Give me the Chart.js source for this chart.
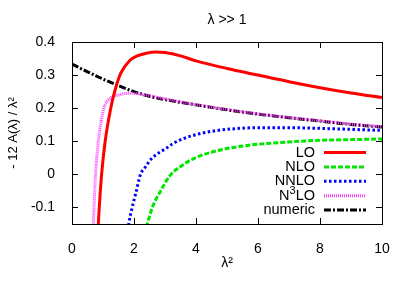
<!DOCTYPE html>
<html>
<head>
<meta charset="utf-8">
<script src="https://cdn.jsdelivr.net/npm/chart.js@4/dist/chart.umd.min.js"></script>
<style>
  html, body { margin: 0; padding: 0; background: #fff; }
  #caixa { width: 409px; height: 285px; }
</style>
</head>
<body>
<div id="caixa"><canvas id="grafico"></canvas></div>
<script>
// valores (x = lambda^2)
const loX = [0.83, 0.85, 0.88, 0.955, 1.07, 1.25, 1.39, 1.57, 1.87, 2.1, 2.43, 2.7, 3, 3.5, 4, 5, 6, 7, 8, 9, 10];
const loY = [-0.2, -0.15, -0.1, 0, 0.1, 0.2, 0.255, 0.305, 0.345, 0.358, 0.367, 0.37, 0.368, 0.358, 0.343, 0.32, 0.3, 0.28, 0.262, 0.246, 0.232];

const nloX = [2.4, 2.43, 2.59, 2.86, 3.15, 3.6, 3.83, 4.16, 4.5, 5, 5.45, 6, 7, 8, 9, 10];
const nloY = [-0.16, -0.15, -0.1, -0.05, -0.005, 0.03, 0.043, 0.057, 0.067, 0.078, 0.085, 0.091, 0.098, 0.103, 0.105, 0.107];

const nnloX = [1.8, 1.83, 1.94, 2.05, 2.21, 2.35, 2.54, 2.8, 3.03, 3.24, 3.51, 4, 4.5, 5, 6, 7, 8, 9, 10];
const nnloY = [-0.17, -0.15, -0.1, -0.06, 0, 0.02, 0.045, 0.065, 0.078, 0.092, 0.105, 0.12, 0.13, 0.136, 0.141, 0.141, 0.139, 0.136, 0.133];

const n3loX = [0.68, 0.69, 0.71, 0.76, 0.85, 1.03, 1.21, 1.5, 1.9, 2.5, 3, 4, 5, 6, 7, 8, 9, 10];
const n3loY = [-0.2, -0.15, -0.1, 0, 0.1, 0.2, 0.228, 0.24, 0.245, 0.238, 0.228, 0.211, 0.196, 0.183, 0.172, 0.162, 0.152, 0.144];

const numX = [0, 0.5, 1, 1.5, 2, 2.5, 3, 4, 5, 6, 7, 8, 9, 10];
const numY = [0.333, 0.31, 0.288, 0.268, 0.25, 0.236, 0.226, 0.21, 0.195, 0.182, 0.171, 0.161, 0.151, 0.143];

const xTicks = [0, 2, 4, 6, 8, 10];
const yTicks = [-0.1, 0, 0.1, 0.2, 0.3, 0.4];

const fonte = '"Liberation Sans", Arial, sans-serif';

function pontos(xs, ys) {
  return xs.map((x, i) => ({ x: x, y: ys[i] }));
}

function serie(label, xs, ys, cor, dash) {
  return {
    label: label,
    data: pontos(xs, ys),
    borderColor: cor,
    backgroundColor: cor,
    borderWidth: 3,
    borderDash: dash,
    pointRadius: 0,
    showLine: true,
    fill: false,
    cubicInterpolationMode: 'monotone'
  };
}

// moldura, ticks para dentro e legenda no estilo gnuplot
const moldura = {
  id: 'moldura',
  afterDraw(chart) {
    const ctx = chart.ctx;
    const a = chart.chartArea;
    const sx = chart.scales.x, sy = chart.scales.y;
    ctx.save();
    ctx.strokeStyle = '#000';
    ctx.lineWidth = 1;
    ctx.setLineDash([]);
    ctx.strokeRect(a.left + 0.5, a.top + 0.5, a.right - a.left, a.bottom - a.top);
    ctx.beginPath();
    xTicks.forEach(v => {
      const p = Math.round(sx.getPixelForValue(v)) + 0.5;
      ctx.moveTo(p, a.bottom); ctx.lineTo(p, a.bottom - 6);
      ctx.moveTo(p, a.top); ctx.lineTo(p, a.top + 6);
    });
    yTicks.forEach(v => {
      const p = Math.round(sy.getPixelForValue(v)) + 0.5;
      ctx.moveTo(a.left, p); ctx.lineTo(a.left + 6, p);
      ctx.moveTo(a.right, p); ctx.lineTo(a.right - 6, p);
    });
    ctx.stroke();

    // titulo
    ctx.fillStyle = '#000';
    ctx.font = '14px ' + fonte;
    ctx.textAlign = 'center';
    ctx.textBaseline = 'middle';
    ctx.fillText('λ >> 1', (a.left + a.right) / 2, 20);

    // legenda
    ctx.font = '14.5px ' + fonte;
    ctx.textAlign = 'right';
    const xt = 315, x1 = 324, x2 = 366;
    chart.data.datasets.forEach((ds, i) => {
      const y = 152.5 + i * 14.4;
      ctx.fillStyle = '#000';
      if (ds.label === 'N3LO') {
        ctx.fillText('LO', xt, y);
        const wLO = ctx.measureText('LO').width;
        ctx.font = '11px ' + fonte;
        ctx.fillText('3', xt - wLO, y - 5);
        const w3 = ctx.measureText('3').width;
        ctx.font = '14.5px ' + fonte;
        ctx.fillText('N', xt - wLO - w3, y);
      } else {
        ctx.fillText(ds.label, xt, y);
      }
      ctx.strokeStyle = ds.borderColor;
      ctx.lineWidth = ds.borderWidth;
      ctx.setLineDash(ds.borderDash);
      ctx.beginPath();
      ctx.moveTo(x1, y);
      ctx.lineTo(x2, y);
      ctx.stroke();
    });
    ctx.restore();
  }
};

new Chart("grafico", {
  type: "scatter",
  data: {
    datasets: [
      serie("LO", loX, loY, "#ff0000", []),
      serie("NLO", nloX, nloY, "#00e600", [5, 2]),
      serie("NNLO", nnloX, nnloY, "#0000ff", [2.5, 2.5]),
      serie("N3LO", n3loX, n3loY, "#ff40ff", [1, 1]),
      serie("numeric", numX, numY, "#000000", [7, 2, 2, 2])
    ]
  },
  plugins: [moldura],
  options: {
    responsive: true,
    maintainAspectRatio: false,
    animation: false,
    layout: { padding: { top: 42, right: 27, left: 0, bottom: 0 } },
    plugins: {
      legend: { display: false },
      title: { display: false },
      tooltip: { enabled: false }
    },
    scales: {
      x: {
        type: 'linear',
        min: 0,
        max: 10,
        afterFit(scale) { scale.height = 61; },
        afterBuildTicks(scale) { scale.ticks = xTicks.map(v => ({ value: v })); },
        grid: { display: false },
        border: { display: false },
        ticks: {
          color: '#000',
          padding: 9,
          maxRotation: 0,
          font: { family: fonte, size: 14 },
          callback: v => String(v)
        },
        title: {
          display: true,
          text: 'λ²',
          color: '#000',
          font: { family: fonte, size: 14 },
          padding: { top: 0, bottom: 13 }
        }
      },
      y: {
        type: 'linear',
        min: -0.15,
        max: 0.4,
        afterFit(scale) { scale.width = 72; },
        afterBuildTicks(scale) { scale.ticks = yTicks.map(v => ({ value: v })); },
        grid: { display: false },
        border: { display: false },
        ticks: {
          color: '#000',
          padding: 9,
          font: { family: fonte, size: 14 },
          callback: v => String(Math.round(v * 10) / 10)
        },
        title: {
          display: true,
          text: '- 12 A(λ) / λ²',
          color: '#000',
          font: { family: fonte, size: 13 },
          padding: { top: 6, bottom: 0 }
        }
      }
    }
  }
});
</script>
</body>
</html>
